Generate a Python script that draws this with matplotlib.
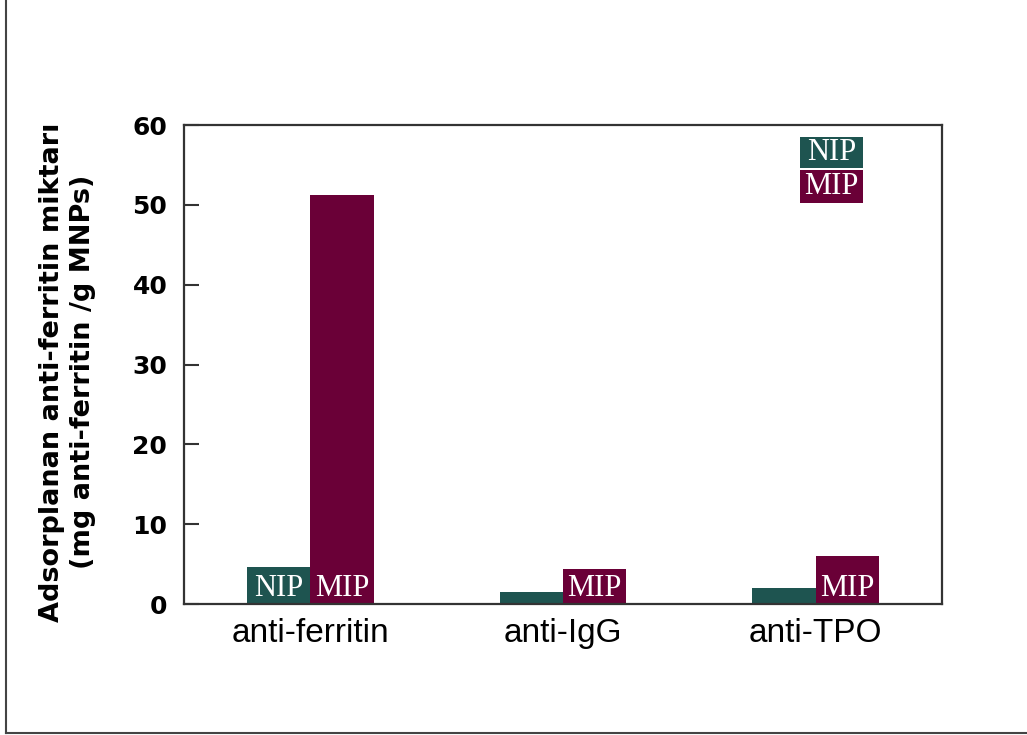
import matplotlib

matplotlib.use("Agg")
import matplotlib.pyplot as plt  # noqa: E402
from matplotlib.lines import Line2D  # noqa: E402
from matplotlib.patches import Rectangle  # noqa: E402
import numpy as np  # noqa: E402


categories = ["anti-ferritin", "anti-IgG", "anti-TPO"]
nip_values = [4.6, 1.5, 2.0]
mip_values = [51.2, 4.35, 6.05]
series_names = ["NIP", "MIP"]
yticks = [0, 10, 20, 30, 40, 50, 60]

NIP_COLOR = "#1e5450"
MIP_COLOR = "#6a0037"
SPINE_COLOR = "#333333"
LABEL_MIN = 3.0  # bars shorter than this get no inner label


def main() -> None:
    fig = plt.figure(figsize=(10.27, 7.35), dpi=100)
    ax = fig.add_axes([0.1792, 0.1782, 0.7380, 0.6517])

    x = np.arange(len(categories))
    width = 0.25
    groups = [(nip_values, NIP_COLOR, -width / 2), (mip_values, MIP_COLOR, width / 2)]
    for (vals, color, offset), name in zip(groups, series_names):
        ax.bar(x + offset, vals, width=width, color=color, edgecolor="none", zorder=2)
        for xi, v in zip(x, vals):
            if v >= LABEL_MIN:
                ax.text(xi + offset, 2.0, name, ha="center", va="center", color="white",
                        fontsize=22, family="Liberation Serif", zorder=3)

    ax.set_xlim(-0.5, 2.5)
    ax.set_ylim(0, 60)
    ax.set_yticks(yticks)
    ax.set_xticks(x)
    ax.set_xticklabels(categories, fontsize=24, family="Liberation Sans")
    ax.tick_params(axis="x", length=0, pad=10)
    ax.tick_params(axis="y", direction="in", length=11, width=1.5, color=SPINE_COLOR,
                   pad=12, labelsize=18)
    for lbl in ax.get_yticklabels():
        lbl.set_fontweight("bold")
    for sp in ax.spines.values():
        sp.set_color(SPINE_COLOR)
        sp.set_linewidth(1.6)

    ax.set_ylabel("Adsorplanan anti-ferritin miktarı\n(mg anti-ferritin /g MNPs)",
                  fontsize=19.5, fontweight="bold", linespacing=1.25, va="center", ha="center")
    ax.yaxis.set_label_coords(-0.154, 0.484)

    # legend drawn as two stacked coloured boxes in the upper right
    boxes = [("NIP", NIP_COLOR, 0.910, 0.975), ("MIP", MIP_COLOR, 0.837, 0.906)]
    for name, color, y0, y1 in boxes:
        ax.add_patch(Rectangle((0.8127, y0), 0.0831, y1 - y0, transform=ax.transAxes,
                               facecolor=color, edgecolor="none", zorder=4))
        ax.text(0.8127 + 0.0831 / 2, (y0 + y1) / 2, name, transform=ax.transAxes,
                ha="center", va="center", color="white", fontsize=22,
                family="Liberation Serif", zorder=5)

    # page frame on the left and bottom edges
    fig.add_artist(Line2D([0.0058, 0.0058], [0.0027, 1.0], transform=fig.transFigure,
                          color="#444444", linewidth=1.5))
    fig.add_artist(Line2D([0.0058, 1.0], [0.0027, 0.0027], transform=fig.transFigure,
                          color="#444444", linewidth=1.5))

    fig.savefig("out.png", dpi=100, facecolor="white")
    plt.close(fig)


if __name__ == "__main__":
    main()
